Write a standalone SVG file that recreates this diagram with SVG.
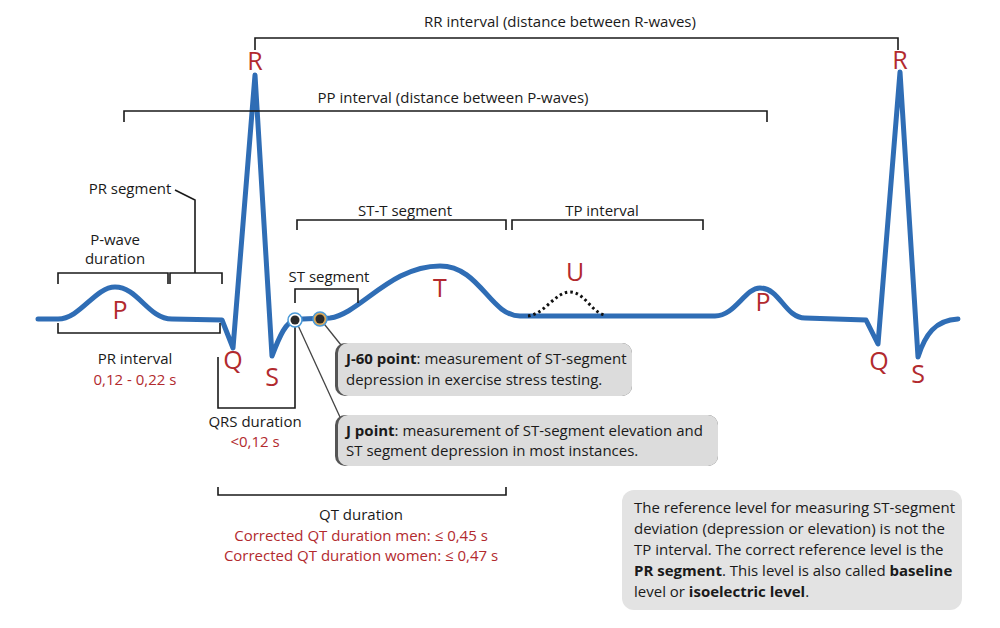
<svg xmlns="http://www.w3.org/2000/svg" width="1000" height="628" viewBox="0 0 1000 628">
<style>
text{font-family:"Open Sans","Liberation Sans",sans-serif;font-size:15px;fill:#1a1a1a}
.c{text-anchor:middle}
.r{fill:#b22a2e}
.big{font-size:25px;fill:#b22a2e;text-anchor:middle}
.br{fill:none;stroke:#1a1a1a;stroke-width:1.6}
.box{fill:#dcdcdc;stroke:#555;stroke-width:0}
.b{font-weight:bold}
</style>
<rect width="1000" height="628" fill="#fff"/>
<g id="ecg">
<path d="M38,319 L58,319 C80,319 95,287 115,287 C138,287 148,319 172,319 L222,320 L233,348 L255,75 L272,356 C280,335 286,322 295,320 C305,318 315,319 330,318 C360,314 390,266 440,266 C480,266 490,316 520,316 L715,316 C735,316 745,288 760,288 C780,288 785,318 805,318 L866,320 L878,344 L900,72 L918,357 C925,335 935,320 958,319" fill="none" stroke="#2f6db5" stroke-width="5" stroke-linejoin="round" stroke-linecap="round"/>
<path d="M528,316 C545,314 555,292 570,292 C585,292 592,314 606,315" fill="none" stroke="#111" stroke-width="3" stroke-dasharray="2.5,3"/>
</g>
<g id="connectors">
<path class="br" d="M255,50 V38 H898 V50"/>
<path class="br" d="M124,122 V111 H767 V122"/>
<path class="br" d="M175,190 L195,200 V273"/>
<path class="br" d="M170,284 V273 H222 V284"/>
<path class="br" d="M58,284 V273 H168 V284"/>
<path class="br" d="M58,323 V333 H220 V323"/>
<path class="br" d="M218,357 V408 H295 V322"/>
<path class="br" d="M295,303 V289 H358 V303"/>
<path class="br" d="M297,230 V220 H506 V230"/>
<path class="br" d="M512,230 V220 H703 V230"/>
<path class="br" d="M218,487 V495 H506 V487"/>
<line x1="296" y1="321" x2="345" y2="428" stroke="#444" stroke-width="1.3"/>
<line x1="321" y1="320" x2="345" y2="350" stroke="#444" stroke-width="1.3"/>
</g>
<g id="points">
<circle cx="295" cy="320" r="7" fill="#fff" stroke="#4a9ad8" stroke-width="1.5"/>
<circle cx="295" cy="320" r="4.5" fill="#2a2a2a"/>
<circle cx="320" cy="319" r="7" fill="#d9a85a" stroke="#4a9ad8" stroke-width="1.5"/>
<circle cx="320" cy="319" r="4.5" fill="#2a2a2a"/>
</g>
<g id="labels">
<text x="560" y="27" class="c">RR interval (distance between R-waves)</text>
<text x="453" y="103" class="c">PP interval (distance between P-waves)</text>
<text x="130" y="194" class="c">PR segment</text>
<text x="115" y="245" class="c">P-wave</text>
<text x="115" y="264" class="c">duration</text>
<text x="135" y="364" class="c">PR interval</text>
<text x="135" y="385" class="c r">0,12 - 0,22 s</text>
<text x="255" y="427" class="c">QRS duration</text>
<text x="255" y="447" class="c r">&lt;0,12 s</text>
<text x="329" y="282" class="c">ST segment</text>
<text x="405" y="216" class="c">ST-T segment</text>
<text x="602" y="216" class="c">TP interval</text>
<text x="361" y="520" class="c">QT duration</text>
<text x="361" y="541" class="c r">Corrected QT duration men: ≤ 0,45 s</text>
<text x="361" y="561" class="c r">Corrected QT duration women: ≤ 0,47 s</text>
<text x="255" y="70" class="big">R</text>
<text x="120" y="319" class="big">P</text>
<text x="233" y="369" class="big">Q</text>
<text x="272" y="386" class="big">S</text>
<text x="440" y="297" class="big">T</text>
<text x="575" y="281" class="big">U</text>
<text x="763" y="311" class="big">P</text>
<text x="900" y="69" class="big">R</text>
<text x="879" y="370" class="big">Q</text>
<text x="918" y="383" class="big">S</text>
</g>
<g id="box-j60">
<rect x="335" y="343" width="297" height="53" rx="10" fill="#555"/>
<rect x="338" y="343" width="294" height="53" rx="10" class="box"/>
<text x="346" y="364"><tspan class="b">J-60 point</tspan>: measurement of ST-segment</text>
<text x="346" y="385">depression in exercise stress testing.</text>
</g>
<g id="box-j">
<rect x="335" y="415" width="383" height="51" rx="10" fill="#555"/>
<rect x="338" y="415" width="380" height="51" rx="10" class="box"/>
<text x="346" y="436"><tspan class="b">J point</tspan>: measurement of ST-segment elevation and</text>
<text x="346" y="456">ST segment depression in most instances.</text>
</g>
<g id="box-ref">
<rect x="622" y="490" width="340" height="120" rx="12" fill="#e3e3e3"/>
<text x="634" y="513">The reference level for measuring ST-segment</text>
<text x="634" y="534">deviation (depression or elevation) is not the</text>
<text x="634" y="555">TP interval. The correct reference level is the</text>
<text x="634" y="576"><tspan class="b">PR segment</tspan>. This level is also called <tspan class="b">baseline</tspan></text>
<text x="634" y="597">level or <tspan class="b">isoelectric level</tspan>.</text>
</g>
</svg>
